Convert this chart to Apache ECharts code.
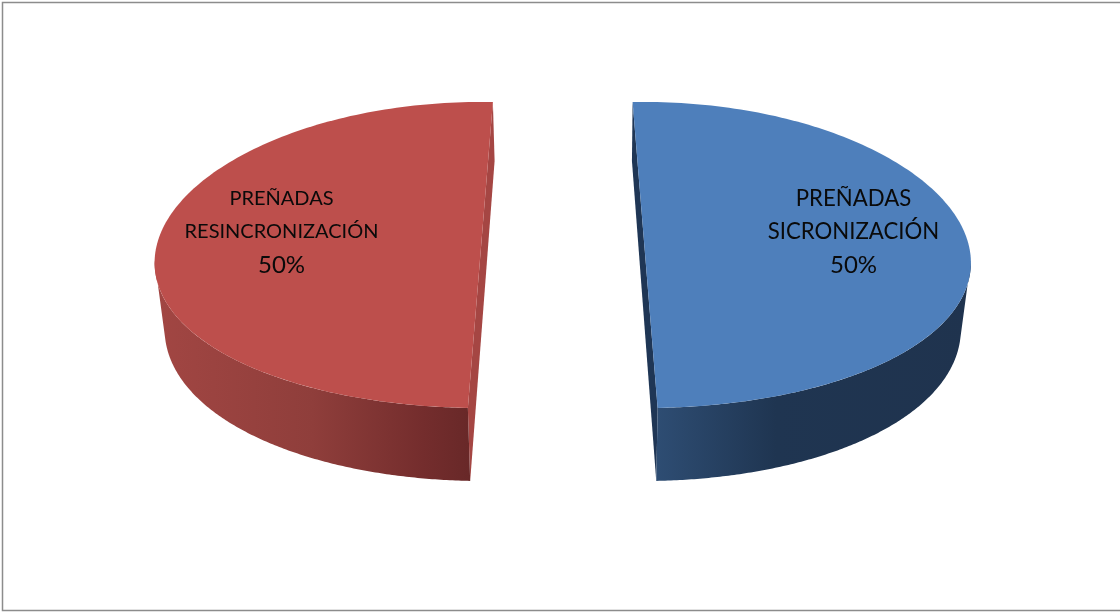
<!DOCTYPE html>
<html><head><meta charset="utf-8">
<style>html,body{margin:0;padding:0;background:#fff}#c{width:1120px;height:612px}</style>
<script src="https://cdn.jsdelivr.net/npm/echarts@6/dist/echarts.min.js"></script>
</head><body><div id="c"></div>
<script>
const categories = ['PREÑADAS\nSICRONIZACIÓN', 'PREÑADAS\nRESINCRONIZACIÓN'];
const values = [50, 50];
const startAngles = [-2.2, 182.2];
const centersX = [644.5, 481];
const baseCentersX = [643.5, 483];
const baseRadiusX = [317, 318];
const rimTopAngle = [92, 268];
const rimBaseAngle = [97, 263];
const labelX = [853.5, 281.5];
const labelSize = [22.2, 20];
const percentSize = 24;
const labelY = [199, 232, 265];
const topColors = ['#4e7fbb', '#bd4f4c'];
const cutColors = ['#1f3655', '#a54643'];
const wallStops = [
  [[0, '#2e4d73'], [0.38, '#1f3551'], [1, '#1f334e']],
  [[0, '#a24643'], [0.5, '#8f3e3b'], [0.85, '#742d2d'], [1, '#682828']]
];
const perspective = 0.05;
const total = values.reduce((a, b) => a + b, 0);
const pt = (cx, cy, rx, ry, deg) => {
  const r = deg * Math.PI / 180;
  const s = 1 - perspective * Math.cos(r);
  return [cx + rx * Math.sin(r) * s, cy - ry * Math.cos(r)];
};
const arc = (cx, cy, rx, ry, a, b) => {
  const n = 160, out = [];
  for (let i = 0; i <= n; i++) out.push(pt(cx, cy, rx, ry, a + (b - a) * i / n));
  return out;
};
const chart = echarts.init(document.getElementById('c'), null, {renderer: 'canvas'});
chart.setOption({
  animation: false,
  backgroundColor: '#fff',
  graphic: [{type: 'rect', shape: {x: 2.5, y: 2.5, width: 1130, height: 608},
    style: {fill: 'none', stroke: '#8c8c8c', lineWidth: 1.5}, z: 0}],
  series: [{
    type: 'custom',
    coordinateSystem: 'none',
    data: values.map((v, i) => ({value: v, name: categories[i]})),
    renderItem(params, api) {
      const i = params.dataIndex;
      const span = api.value(0) / total * 360;
      const a = startAngles[i], b = a + span;
      const T = [centersX[i], 255, 326, 153];
      const B = [baseCentersX[i], 321, baseRadiusX[i], 160];
      // visible rim runs between the cut and the silhouette point of each ellipse
      const wallPts = i === 0
        ? arc(...B, rimBaseAngle[i], b).concat(arc(...T, b, rimTopAngle[i]))
        : arc(...B, a, rimBaseAngle[i]).concat(arc(...T, rimTopAngle[i], a));
      const cutPts = [pt(...T, a), pt(...B, a), pt(...B, b), pt(...T, b)];
      const lines = categories[i].split('\n').concat(api.value(0) + '%');
      return {type: 'group', children: [
        {type: 'polygon', shape: {points: cutPts}, style: {fill: cutColors[i]}},
        {type: 'polygon', shape: {points: wallPts}, style: {fill: {
          type: 'linear', x: 0, y: 0, x2: 1, y2: 0,
          colorStops: wallStops[i].map(s => ({offset: s[0], color: s[1]}))}}},
        {type: 'polygon', shape: {points: arc(...T, a, b)}, style: {fill: topColors[i]}}
      ].concat(lines.map((t, j) => ({
        type: 'text', x: labelX[i], y: labelY[j], style: {
          text: t, fill: '#0a0a0a',
          font: (j === 2 ? percentSize : labelSize[i]) + 'px Lato',
          align: 'center', verticalAlign: 'middle'}
      })))};
    }
  }]
});
</script></body></html>
